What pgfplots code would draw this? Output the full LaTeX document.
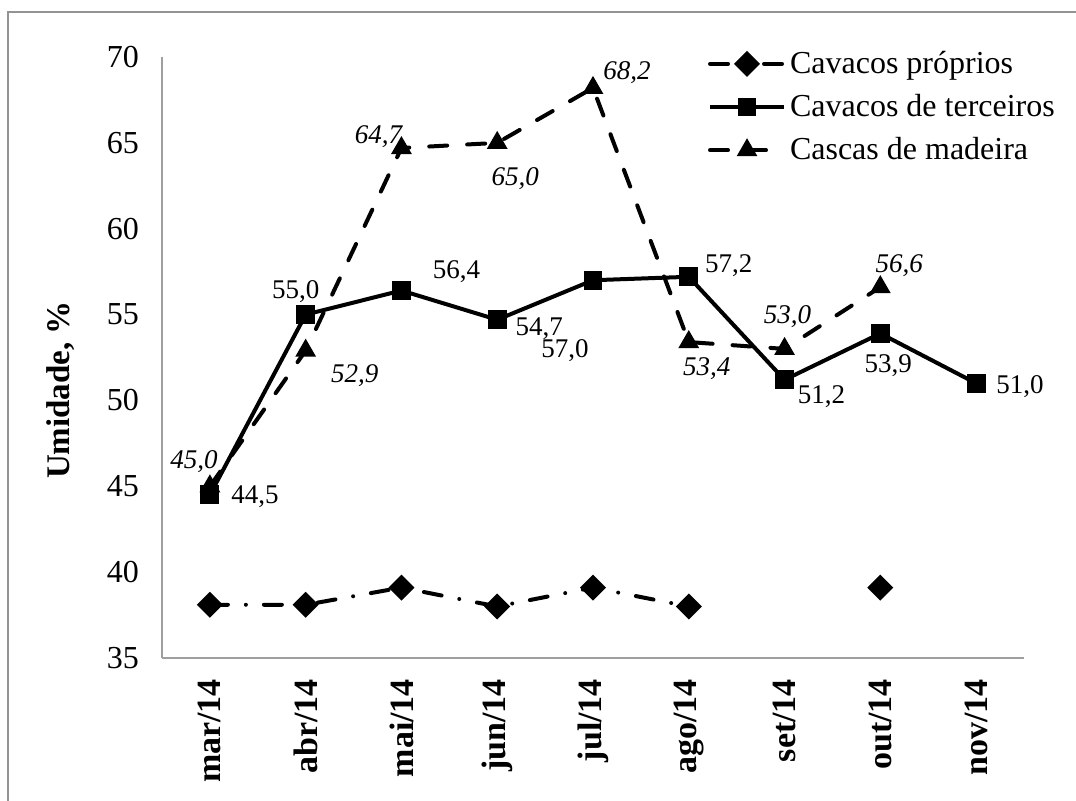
\documentclass[border=0pt]{standalone}
\usepackage{fontspec}
\setmainfont{Liberation Serif}
\usepackage{pgfplots}
\pgfplotsset{compat=1.18}
\usepackage{pgfplotstable}

\pgfplotstableread{
x y
0 38.1
1 38.1
2 39.1
3 38.0
4 39.1
5 38.0
6 nan
7 39.1
}\proprios

\pgfplotstableread{
x y lbl dx dy
0 44.5 44,5 45 2
1 55.0 55,0 -10 -23
2 56.4 56,4 55 -19
3 54.7 54,7 42 9
4 57.0 57,0 -28 70
5 57.2 57,2 40 -11
6 51.2 51,2 37 17
7 53.9 53,9 8 32
8 51.0 51,0 44 3
}\terceiros

\pgfplotstableread{
x y lbl dx dy
0 45.0 45,0 -16 -25
1 52.9 52,9 49 25
2 64.7 64,7 -23 -11
3 65.0 65,0 18 36
4 68.2 68,2 34 -15
5 53.4 53,4 18 27
6 53.0 53,0 3 -32
7 56.6 56,6 19 -21
}\cascas

\pgfplotsset{
  propstyle/.style={black, line width=2pt, line cap=round, dash pattern=on 9pt off 9pt on 0pt off 9pt,
    mark=square*, mark size=3.6pt, mark options={solid, rotate=45}},
  terstyle/.style={black, line width=2pt, mark=square*, mark size=3.7pt, mark options={solid}},
  casstyle/.style={black, line width=2pt, line cap=round, dash pattern=on 9pt off 10pt,
    mark=triangle*, mark size=4pt, mark options={solid}},
  lblstyle/.style={draw=none, mark=none, forget plot, nodes near coords, point meta=explicit symbolic,
    every node near coord/.style={anchor=center, inner sep=0pt, font=#1}},
}

\begin{document}
\begin{tikzpicture}
\path[use as bounding box] (0pt,0pt) rectangle (538pt,400pt);
\draw[gray!85, line width=1pt] (4pt,-5pt) -- (4pt,394pt) -- (545pt,394pt);
\begin{axis}[
  at={(81pt,71pt)}, anchor=south west,
  scale only axis, width=431pt, height=300.5pt,
  xmin=-0.5, xmax=8.5, ymin=35, ymax=70,
  axis x line=bottom, axis y line=left,
  axis line style={-, draw=gray!75, line width=0.8pt},
  major tick length=0pt,
  xtick={0,...,8},
  xticklabels={mar/14,abr/14,mai/14,jun/14,jul/14,ago/14,set/14,out/14,nov/14},
  ytick={35,40,...,70},
  /pgf/number format/assume math mode=true,
  yticklabel style={font=\fontsize{16}{19}\selectfont, xshift=-8pt},
  xticklabel style={font=\fontsize{17}{20}\selectfont\bfseries, rotate=90, anchor=east, xshift=-7pt},
  ylabel={Umidade, \%},
  ylabel style={font=\fontsize{16.5}{19}\selectfont\bfseries, at={(axis description cs:-0.118,0.446)}, anchor=center},
  unbounded coords=jump,
  legend cell align=left,
  legend style={draw=none, fill=none, at={(axis description cs:0.633,1.017)}, anchor=north west,
    font=\fontsize{16}{19}\selectfont, row sep=5pt, inner sep=0pt,
    nodes={inner xsep=2pt}},
  legend image code/.code={\draw[mark repeat=2,mark phase=2,#1] plot coordinates {(0pt,0pt) (18.5pt,0pt) (37pt,0pt)};},
  clip=false,
]
\addlegendimage{propstyle}
\addlegendentry{Cavacos próprios}
\addlegendimage{terstyle}
\addlegendentry{Cavacos de terceiros}
\addlegendimage{casstyle}
\addlegendentry{Cascas de madeira}

\addplot[propstyle, forget plot] table[x=x,y=y] {\proprios};
\addplot[terstyle, forget plot] table[x=x,y=y] {\terceiros};
\addplot[casstyle, forget plot] table[x=x,y=y] {\cascas};

\addplot[lblstyle={\fontsize{13.5}{15}\selectfont}]
  table[x expr=\thisrow{x}+\thisrow{dx}/95.8, y expr=\thisrow{y}-\thisrow{dy}/17.17, meta=lbl] {\terceiros};
\addplot[lblstyle={\fontsize{13.5}{15}\selectfont\itshape}]
  table[x expr=\thisrow{x}+\thisrow{dx}/95.8, y expr=\thisrow{y}-\thisrow{dy}/17.17, meta=lbl] {\cascas};
\end{axis}
\end{tikzpicture}
\end{document}
